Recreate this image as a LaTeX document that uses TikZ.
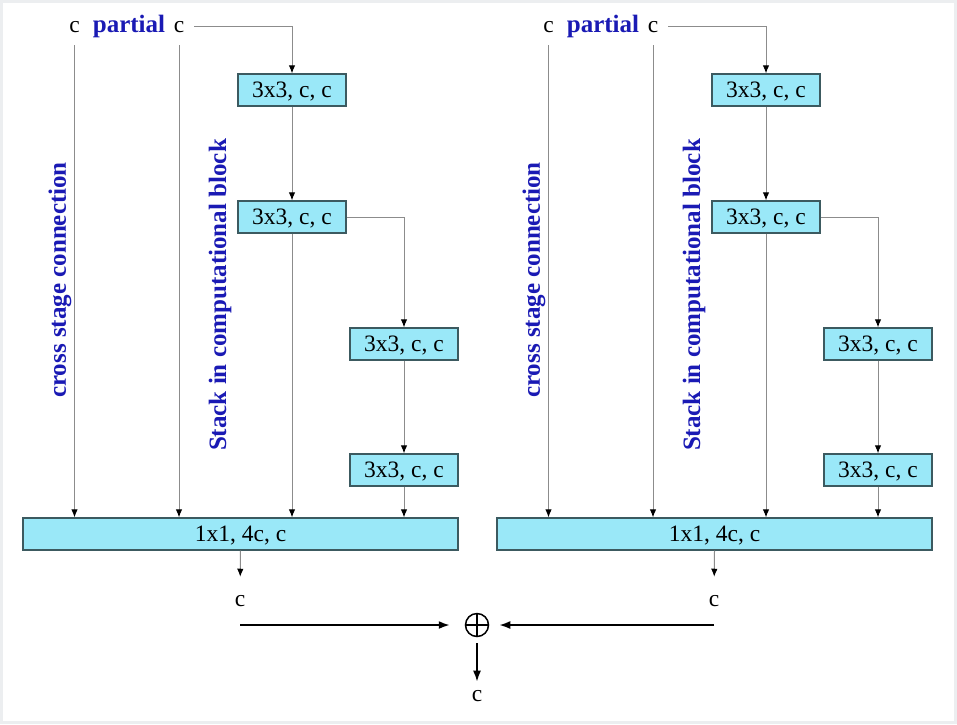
\documentclass[tikz,border=0pt]{standalone}
\usepackage{fontspec}
\setmainfont{Liberation Serif}
\usetikzlibrary{arrows.meta}
\definecolor{convfill}{HTML}{9AE8F8}
\definecolor{convline}{HTML}{3C5A60}
\definecolor{annotblue}{HTML}{1A1AB4}
\definecolor{framegray}{HTML}{ECEEF0}

\begin{document}
\begin{tikzpicture}[x=1pt,y=-1pt]
    \tikzstyle{conv}=[rectangle,draw=convline,fill=convfill,line width=1.3pt,minimum width=108pt,minimum height=32pt,inner sep=0pt,text depth=0pt,font=\fontsize{23.5}{26}\selectfont]
    \tikzstyle{merge conv}=[conv,minimum width=435pt];
    \tikzstyle{chan}=[inner sep=0pt,anchor=base,font=\fontsize{23.5}{26}\selectfont];
    \tikzstyle{annot}=[inner sep=0pt,text=annotblue,font=\fontsize{25}{29}\selectfont\bfseries];
    \tikzstyle{flow}=[draw=black!45,line width=1pt,-{Latex[black,length=8pt,width=6.5pt]}];
    \tikzstyle{sum flow}=[draw=black,line width=1.8pt,-{Latex[length=11pt,width=8pt]}];
    \tikzstyle{sum}=[circle,draw=black,line width=1.5pt,minimum size=23pt,inner sep=0pt,
        path picture={\draw[line width=1.2pt] (path picture bounding box.north) -- (path picture bounding box.south)
                      (path picture bounding box.west) -- (path picture bounding box.east);}];

    % Frame
    \fill[framegray] (0,0) rectangle (957,724);
    \fill[white] (3,3) rectangle (954,721);

    % Draw the two partial blocks
    \foreach \b / \dx in {1/0,2/474}
    {
    \begin{scope}[xshift=\dx pt]
        \node[chan] (C\b-a) at (74.5,32) {c};
        \node[annot,anchor=base] (P\b) at (129,32) {partial};
        \node[chan] (C\b-b) at (179,32) {c};

        \node[annot,rotate=90] at (60,280) {cross stage connection};
        \node[annot,rotate=90] at (220,295) {Stack in computational block};

        \node[conv] (B\b-1) at (292,90) {3x3, c, c};
        \node[conv] (B\b-2) at (292,217) {3x3, c, c};
        \node[conv] (B\b-3) at (404,344) {3x3, c, c};
        \node[conv] (B\b-4) at (404,470) {3x3, c, c};
        \node[merge conv] (M\b) at (240.5,534) {1x1, 4c, c};
        \node[chan] (O\b) at (240,606) {c};

        % Connect the layers
        \draw[flow,shorten <=13pt] (C\b-a) -- (C\b-a |- M\b.north);
        \draw[flow,shorten <=13pt] (C\b-b) -- (C\b-b |- M\b.north);
        \draw[flow,shorten <=10pt] (C\b-b.east) -| (B\b-1.north);
        \draw[flow] (B\b-1) -- (B\b-2);
        \draw[flow] (B\b-2.east) -| (B\b-3.north);
        \draw[flow] (B\b-3) -- (B\b-4);
        \draw[flow] (B\b-2.south) -- (B\b-2.south |- M\b.north);
        \draw[flow] (B\b-4.south) -- (B\b-4.south |- M\b.north);
        \draw[flow,shorten >=18pt] (M\b.south) -- (O\b);
    \end{scope}
    }

    % Sum of the two blocks
    \node[sum] (S) at (477,625) {};
    \node[chan] (F) at (477,701) {c};
    \draw[sum flow,shorten >=15pt] (O1 |- S) -- (S);
    \draw[sum flow,shorten >=10pt] (O2 |- S) -- (S);
    \draw[sum flow,shorten <=6pt,shorten >=8pt] (S) -- (F);
\end{tikzpicture}
\end{document}
